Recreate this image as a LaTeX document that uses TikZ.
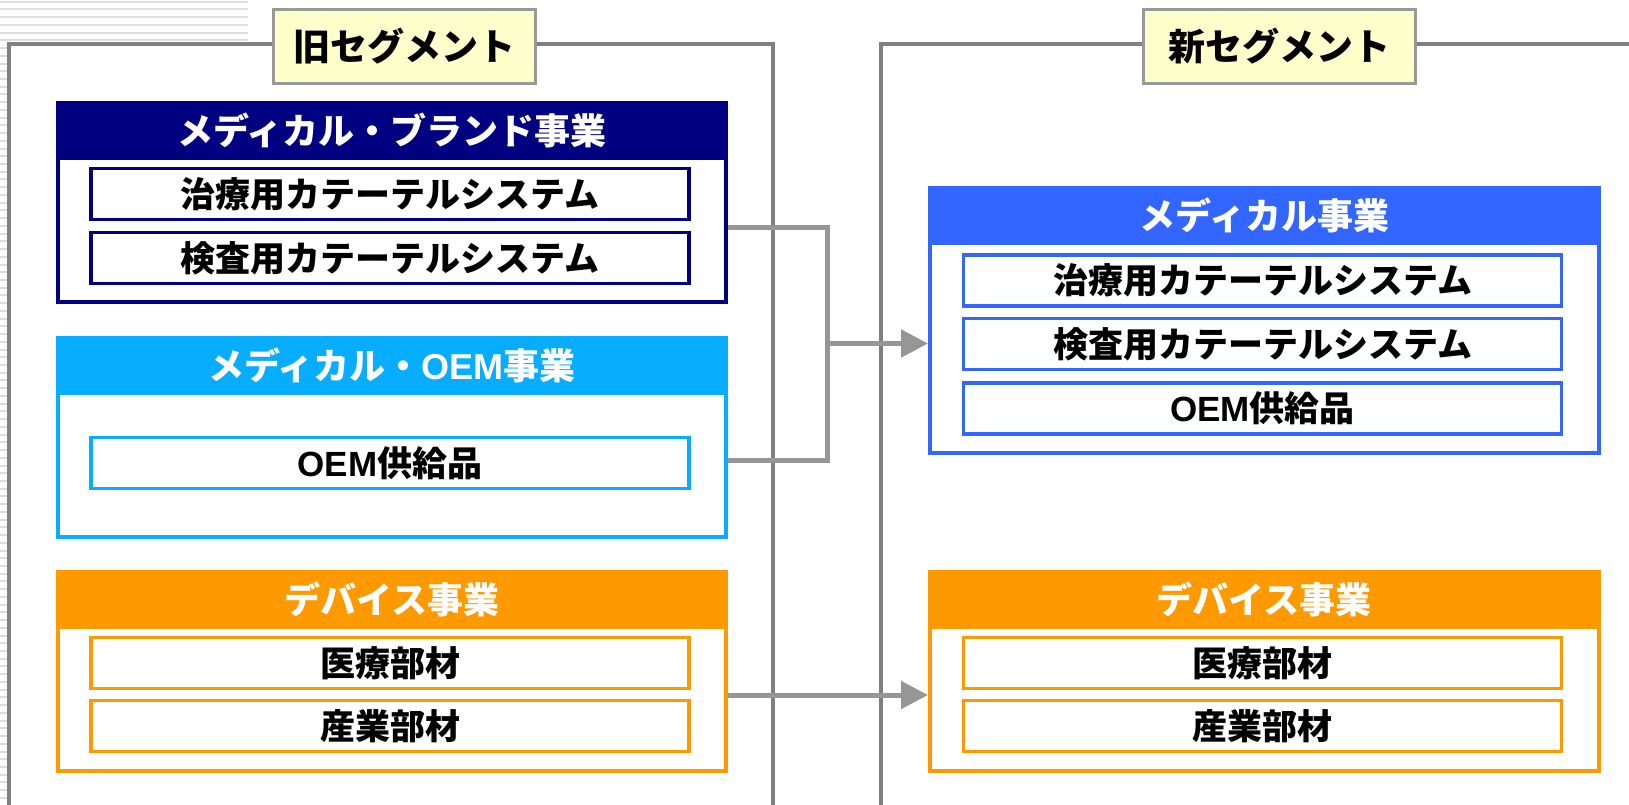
\documentclass[tikz,border=0pt]{standalone}
\usepackage{fontspec}
\setmainfont{Noto Sans CJK JP}
\newfontfamily\latin{Liberation Sans}
\usetikzlibrary{arrows.meta}
\definecolor{navy}{HTML}{000080}
\definecolor{sky}{HTML}{09ADFF}
\definecolor{royal}{HTML}{3366FF}
\definecolor{amber}{HTML}{FF9900}
\definecolor{framegray}{HTML}{808080}
\definecolor{conngray}{HTML}{969696}
\definecolor{stripegray}{HTML}{DDDDDD}
\definecolor{titlefill}{HTML}{FFFFCC}
\definecolor{titleedge}{HTML}{999999}
\tikzset{
  outerbox/.style={draw=#1, line width=3.5pt, anchor=north west, inner sep=0pt, minimum width=668pt},
  headbox/.style={fill=#1, draw=#1, line width=3.5pt, anchor=north west, inner sep=0pt, minimum width=668pt, minimum height=55pt, text=white, font=\bfseries\fontsize{36pt}{40pt}\selectfont},
  itembox/.style={draw=#1, line width=3.5pt, fill=white, inner sep=0pt, minimum width=598pt, minimum height=51pt, font=\bfseries\fontsize{35pt}{38pt}\selectfont},
  titlebox/.style={draw=titleedge, fill=titlefill, line width=3pt, inner sep=0pt, minimum height=74pt, font=\bfseries\fontsize{37pt}{40pt}\selectfont},
  frameline/.style={draw=framegray, line width=4pt},
  conn/.style={draw=conngray, line width=5pt},
  arrowconn/.style={conn, -{Triangle[length=27pt,width=27pt]}}
}
\begin{document}
\begin{tikzpicture}[x=1pt,y=-1pt]
\useasboundingbox (0,0) rectangle (1629,804);
% background stripes
\foreach \i in {0,...,5} \fill[stripegray] (0,{0.7+\i*7.73}) rectangle (248,{2.7+\i*7.73});
\foreach \i in {6,...,104} \fill[stripegray] (0,{0.7+\i*7.73}) rectangle (7,{2.7+\i*7.73});
\fill[white] (7,42) rectangle (771,804);
% frames
\draw[frameline] (9,806) -- (9,43.5) -- (773,43.5) -- (773,806);
\draw[frameline] (881,806) -- (881,43.5) -- (1631,43.5);
% titles
\node[titlebox, minimum width=262pt] (told) at (404,46) {旧セグメント};
\node[titlebox, minimum width=272pt] (tnew) at (1279,46) {新セグメント};
% left: medical brand
\node[outerbox=navy, minimum height=199pt] (A) at (56,101) {};
\node[headbox=navy] (Ah) at (56,101) {メディカル・ブランド事業};
\node[itembox=navy] (A1) at (390,194) {治療用カテーテルシステム};
\node[itembox=navy] (A2) at (390,258) {検査用カテーテルシステム};
% left: medical OEM
\node[outerbox=sky, minimum height=199pt] (B) at (56,336) {};
\node[headbox=sky] (Bh) at (56,336) {メディカル・{\latin OEM}事業};
\node[itembox=sky] (B1) at (390,463) {{\latin OEM}供給品};
% left: devices
\node[outerbox=amber, minimum height=199pt] (C) at (56,570) {};
\node[headbox=amber] (Ch) at (56,570) {デバイス事業};
\node[itembox=amber] (C1) at (390,663) {医療部材};
\node[itembox=amber] (C2) at (390,726) {産業部材};
% right: medical
\node[outerbox=royal, minimum width=669pt, minimum height=265pt] (D) at (928,186) {};
\node[headbox=royal, minimum width=669pt] (Dh) at (928,186) {メディカル事業};
\node[itembox=royal] (D1) at (1262.5,280.5) {治療用カテーテルシステム};
\node[itembox=royal] (D2) at (1262.5,344) {検査用カテーテルシステム};
\node[itembox=royal] (D3) at (1262.5,408.5) {{\latin OEM}供給品};
% right: devices
\node[outerbox=amber, minimum width=669pt, minimum height=199pt] (E) at (928,570) {};
\node[headbox=amber, minimum width=669pt] (Eh) at (928,570) {デバイス事業};
\node[itembox=amber] (E1) at (1262.5,663) {医療部材};
\node[itembox=amber] (E2) at (1262.5,726) {産業部材};
% connectors
\coordinate (ya) at (0,227);
\coordinate (yb) at (0,460);
\coordinate (yc) at (0,695);
\coordinate (m) at (827,343.5);
\draw[conn] (A.east |- ya) -| (m) |- (B.east |- yb);
\draw[arrowconn] (m) -- (D.west |- m);
\draw[arrowconn] (C.east |- yc) -- (E.west |- yc);
\end{tikzpicture}
\end{document}
